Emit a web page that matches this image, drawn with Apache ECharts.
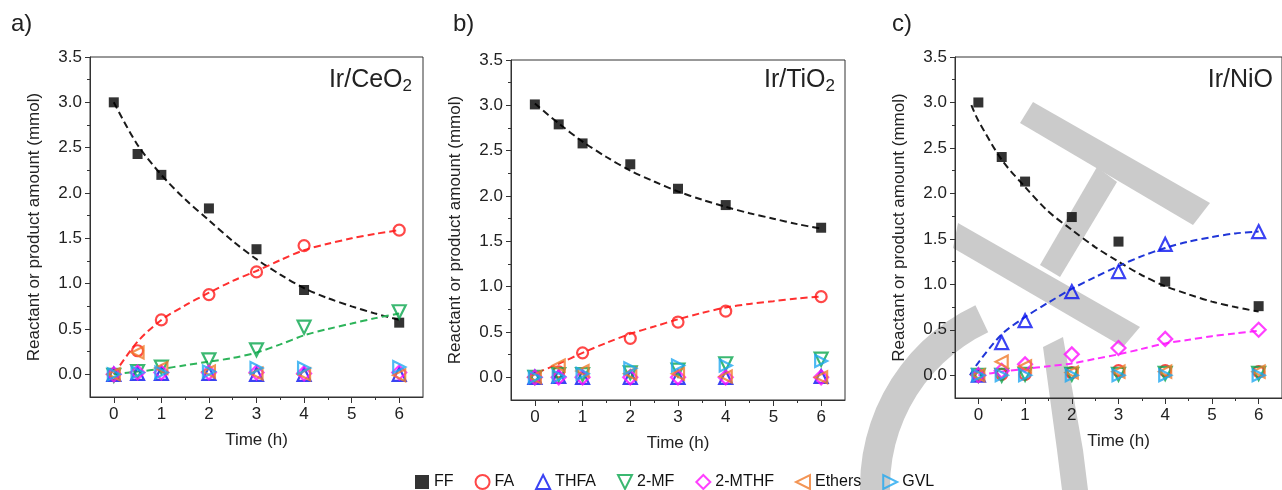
<!DOCTYPE html>
<html>
<head>
<meta charset="utf-8">
<title>Reactant or product amount vs time</title>
<script src="https://cdn.jsdelivr.net/npm/echarts@6/dist/echarts.min.js"></script>
<style>
  html, body { margin: 0; padding: 0; background: #fff; }
  #chart { width: 1282px; height: 490px; }
</style>
</head>
<body>
<div id="chart"></div>
<script>
// sampling times (h)
const times = [0, 0.5, 1, 2, 3, 4, 6]
const seriesNames = ['FF', 'FA', 'THFA', '2-MF', '2-MTHF', 'Ethers', 'GVL']

// a) Ir/CeO2
const ffA = [3.0, 2.43, 2.2, 1.83, 1.38, 0.93, 0.57]
const faA = [0, 0.26, 0.6, 0.88, 1.13, 1.42, 1.59]
const thfaA = [0, 0.01, 0.01, 0.01, 0.0, 0.0, 0.0]
const mfA = [-0.01, 0.03, 0.08, 0.16, 0.27, 0.52, 0.69]
const mthfA = [0, 0.02, 0.02, 0.02, 0.02, 0.01, 0.02]
const ethA = [0, 0.24, 0.07, 0.03, 0.01, 0.0, -0.01]
const gvlA = [0, 0.02, 0.02, 0.03, 0.07, 0.07, 0.08]
// dashed fit curves, every half hour
const fitT = [0, 0.5, 1, 1.5, 2, 2.5, 3, 3.5, 4, 4.5, 5, 5.5, 6]
const ffFitA = [3.0, 2.53, 2.2, 1.93, 1.7, 1.47, 1.27, 1.1, 0.95, 0.84, 0.75, 0.67, 0.6]
const faFitA = [0, 0.36, 0.6, 0.76, 0.9, 1.03, 1.14, 1.26, 1.37, 1.44, 1.5, 1.55, 1.59]
const mfFitA = [0, 0.03, 0.06, 0.1, 0.14, 0.18, 0.24, 0.33, 0.43, 0.5, 0.56, 0.62, 0.67]

// b) Ir/TiO2
const ffB = [3.01, 2.79, 2.58, 2.35, 2.08, 1.9, 1.65]
const faB = [0, 0.06, 0.27, 0.43, 0.61, 0.73, 0.89]
const thfaB = [0, 0.01, 0, 0, 0, 0, 0.01]
const mfB = [0, 0.03, 0.03, 0.05, 0.08, 0.15, 0.2]
const mthfB = [0, 0, 0, 0, 0, 0, 0]
const ethB = [0, 0.13, 0.07, 0.04, 0.04, 0.01, 0.0]
const gvlB = [0, 0.01, 0.04, 0.1, 0.13, 0.13, 0.18]
const ffFitB = [3.02, 2.8, 2.6, 2.43, 2.28, 2.16, 2.05, 1.96, 1.88, 1.81, 1.75, 1.69, 1.64]
const faFitBT = [-0.15, 0, 0.5, 1, 1.5, 2, 2.5, 3, 3.5, 4, 4.5, 5, 5.5, 6]
const faFitB = [0, 0.04, 0.15, 0.27, 0.38, 0.48, 0.56, 0.64, 0.71, 0.77, 0.81, 0.84, 0.87, 0.89]

// c) Ir/NiO
const ffC = [3.0, 2.4, 2.13, 1.74, 1.47, 1.03, 0.76]
const faC = [0, 0.01, 0.01, 0.03, 0.05, 0.05, 0.04]
const thfaC = [0, 0.36, 0.6, 0.92, 1.14, 1.44, 1.58]
const mfC = [0, 0.0, 0.01, 0.01, 0.01, 0.02, 0.02]
const mthfC = [0, 0.05, 0.12, 0.23, 0.3, 0.4, 0.5]
const ethC = [0, 0.15, 0.1, 0.03, 0.04, 0.04, 0.04]
const gvlC = [0, 0, 0, 0, 0, 0, 0]
const ffFitCT = [-0.15, 0, 0.5, 1, 1.5, 2, 2.5, 3, 3.5, 4, 4.5, 5, 5.5, 6]
const ffFitC = [2.97, 2.8, 2.37, 2.07, 1.8, 1.6, 1.41, 1.25, 1.1, 0.98, 0.89, 0.81, 0.75, 0.7]
const thfaFitCT = [-0.18, 0, 0.5, 1, 1.5, 2, 2.5, 3, 3.5, 4, 4.5, 5, 5.5, 6]
const thfaFitC = [0, 0.14, 0.45, 0.64, 0.8, 0.95, 1.08, 1.2, 1.31, 1.4, 1.47, 1.52, 1.56, 1.58]
const mthfFitC = [0, 0.04, 0.07, 0.1, 0.13, 0.18, 0.23, 0.29, 0.35, 0.39, 0.43, 0.46, 0.49]

// axis ticks
const xMajor = [0, 1, 2, 3, 4, 5, 6]
const xMinor = [0.5, 1.5, 2.5, 3.5, 4.5, 5.5]
const yMajor = [0, 0.5, 1, 1.5, 2, 2.5, 3, 3.5]
const yMinor = [0.25, 0.75, 1.25, 1.75, 2.25, 2.75, 3.25]

const FONT = '"Liberation Sans", Arial, sans-serif'
const AXIS = '#333'
const TXT = '#222'

const DOWN = 'path://M0,0L10,0L5,10Z'
const LEFT = 'path://M10,0L10,10L0,5Z'
const RIGHT = 'path://M0,0L0,10L10,5Z'

const styles = {
  'FF':     { symbol: 'rect', size: 10, color: '#000000', filled: true },
  'FA':     { symbol: 'circle', size: 11, color: '#ff1a1a' },
  'THFA':   { symbol: 'triangle', size: 13, color: '#0a14f0' },
  '2-MF':   { symbol: DOWN, size: 13, color: '#0aa64e' },
  '2-MTHF': { symbol: 'diamond', size: 14, color: '#ff10ff' },
  'Ethers': { symbol: LEFT, size: 12, color: '#f07a2a' },
  'GVL':    { symbol: RIGHT, size: 12, color: '#20a8f0' }
}

const panels = [
  {
    grid: { left: 90, top: 57, width: 333, height: 340 },
    tag: 'a)', tagLeft: 11, label: 'Ir/CeO', sub: '2', labelRight: 870,
    points: [ffA, faA, thfaA, mfA, mthfA, ethA, gvlA],
    fits: [
      { t: fitT, v: ffFitA, color: '#1a1a1a' },
      { t: fitT, v: faFitA, color: '#ff3030' },
      { t: fitT, v: mfFitA, color: '#2db45a' }
    ]
  },
  {
    grid: { left: 511, top: 60, width: 334, height: 340 },
    tag: 'b)', tagLeft: 453, label: 'Ir/TiO', sub: '2', labelRight: 447,
    points: [ffB, faB, thfaB, mfB, mthfB, ethB, gvlB],
    fits: [
      { t: fitT, v: ffFitB, color: '#1a1a1a' },
      { t: faFitBT, v: faFitB, color: '#ff3030' }
    ]
  },
  {
    grid: { left: 955, top: 57, width: 333, height: 341 },
    tag: 'c)', tagLeft: 892, label: 'Ir/NiO', sub: '', labelRight: 9,
    points: [ffC, faC, thfaC, mfC, mthfC, ethC, gvlC],
    fits: [
      { t: ffFitCT, v: ffFitC, color: '#1a1a1a' },
      { t: thfaFitCT, v: thfaFitC, color: '#2036d8' },
      { t: fitT, v: mthfFitC, color: '#ff30ff' }
    ]
  }
]

const grids = []
const xAxes = []
const yAxes = []
const series = []
const titles = []

panels.forEach((p, i) => {
  grids.push(Object.assign({ show: true, borderColor: AXIS, borderWidth: 1, backgroundColor: 'transparent' }, p.grid))

  // main x axis + minor ticks overlay
  xAxes.push({
    gridIndex: i, type: 'value', min: -0.5, max: 6.5,
    axisLine: { onZero: false, lineStyle: { color: AXIS, width: 1 } },
    axisTick: { customValues: xMajor, length: 6, lineStyle: { color: AXIS } },
    axisLabel: { customValues: xMajor, fontSize: 17, color: TXT, margin: 9, fontFamily: FONT },
    splitLine: { show: false },
    name: 'Time (h)', nameLocation: 'middle', nameGap: 35,
    nameTextStyle: { fontSize: 17, color: TXT, fontFamily: FONT }
  })
  xAxes.push({
    gridIndex: i, type: 'value', min: -0.5, max: 6.5, position: 'bottom',
    axisLine: { show: false, onZero: false },
    axisTick: { customValues: xMinor, length: 3, lineStyle: { color: AXIS } },
    axisLabel: { show: false },
    splitLine: { show: false }
  })

  yAxes.push({
    gridIndex: i, type: 'value', min: -0.25, max: 3.5,
    axisLine: { show: true, onZero: false, lineStyle: { color: AXIS, width: 1 } },
    axisTick: { show: true, customValues: yMajor, length: 5, lineStyle: { color: AXIS } },
    axisLabel: {
      customValues: yMajor, fontSize: 17, color: TXT, margin: 8, fontFamily: FONT,
      formatter: v => v.toFixed(1)
    },
    splitLine: { show: false },
    name: 'Reactant or product amount (mmol)', nameLocation: 'middle', nameGap: 47,
    nameTextStyle: { fontSize: 17, color: TXT, fontFamily: FONT }
  })
  yAxes.push({
    gridIndex: i, type: 'value', min: -0.25, max: 3.5, position: 'left',
    axisLine: { show: false, onZero: false },
    axisTick: { show: true, customValues: yMinor, length: 3, lineStyle: { color: AXIS } },
    axisLabel: { show: false },
    splitLine: { show: false }
  })

  // dashed fits under the markers
  p.fits.forEach((f, k) => {
    series.push({
      name: 'fit' + i + '_' + k, type: 'line', xAxisIndex: 2 * i, yAxisIndex: 2 * i,
      data: f.t.map((t, j) => [t, f.v[j]]),
      showSymbol: false, smooth: 0.3, silent: true, z: 1,
      lineStyle: { color: f.color, width: 2, type: [7, 4] }
    })
  })

  seriesNames.forEach((name, k) => {
    const s = styles[name]
    series.push({
      name: name, type: 'scatter', xAxisIndex: 2 * i, yAxisIndex: 2 * i,
      data: times.map((t, j) => [t, p.points[k][j]]),
      symbol: s.symbol, symbolSize: s.size, z: 3,
      itemStyle: s.filled
        ? { color: s.color }
        : { color: 'rgba(255,255,255,0)', borderColor: s.color, borderWidth: 2.2 }
    })
  })

  titles.push({
    text: p.tag, left: p.tagLeft, top: 12, padding: 0,
    textStyle: { fontSize: 24, fontWeight: 'normal', color: TXT, fontFamily: FONT }
  })
  titles.push({
    text: '{m|' + p.label + '}' + (p.sub ? '{s|' + p.sub + '}' : ''),
    right: p.labelRight, top: 65, padding: 0,
    textStyle: {
      fontWeight: 'normal',
      rich: {
        m: { fontSize: 25, lineHeight: 30, fontWeight: 'normal', color: TXT, fontFamily: FONT },
        s: { fontSize: 17, lineHeight: 16, fontWeight: 'normal', verticalAlign: 'bottom', color: TXT, fontFamily: FONT }
      }
    }
  })
})

// grey watermark shapes around the third panel
const WM = '#cbcbcb'
const watermark = [
  { type: 'polygon', shape: { points: [[1033, 102], [1210, 203], [1193, 225], [1020, 123]] } },
  { type: 'polygon', shape: { points: [[958, 223], [1140, 327], [1123, 347], [953, 248]] } },
  { type: 'polygon', shape: { points: [[1097, 167], [1117, 182], [1060, 277], [1040, 265]] } },
  { type: 'sector', shape: { cx: 1061, cy: 487, r: 201, r0: 171, startAngle: Math.PI * 0.95, endAngle: Math.PI * 1.36, clockwise: true } },
  { type: 'polygon', shape: { points: [[1043, 347], [1063, 337], [1083, 450], [1088, 490], [1062, 490], [1057, 450]] } }
].map(g => Object.assign(g, { style: { fill: WM }, z: -1, silent: true }))

const chart = echarts.init(document.getElementById('chart'), null, { renderer: 'canvas' })
chart.setOption({
  animation: false,
  backgroundColor: '#ffffff',
  textStyle: { fontFamily: FONT },
  title: titles,
  graphic: watermark,
  legend: {
    data: seriesNames, left: 415, top: 474, itemWidth: 14, itemHeight: 14, itemGap: 21,
    selectedMode: false, padding: 0,
    textStyle: { fontSize: 16, color: '#111', fontFamily: FONT }
  },
  grid: grids,
  xAxis: xAxes,
  yAxis: yAxes,
  series: series
})
</script>
</body>
</html>
